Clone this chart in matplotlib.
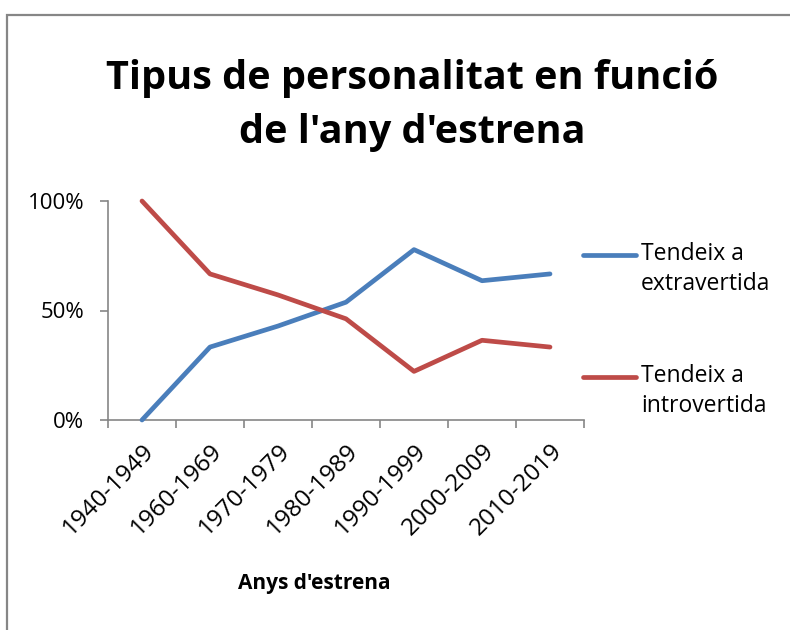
import matplotlib
matplotlib.use("Agg")
import matplotlib.pyplot as plt
from matplotlib.lines import Line2D
from matplotlib.patches import Rectangle
from matplotlib.ticker import FixedLocator, PercentFormatter

categories = ["1940-1949", "1960-1969", "1970-1979", "1980-1989",
              "1990-1999", "2000-2009", "2010-2019"]
extravertida = [0.0, 33.3, 42.9, 53.8, 77.8, 63.6, 66.7]
introvertida = [100.0, 66.7, 57.1, 46.2, 22.2, 36.4, 33.3]
series_labels = ["Tendeix a\nextravertida", "Tendeix a\nintrovertida"]
title = "Tipus de personalitat en funció\nde l'any d'estrena"
xlabel = "Anys d'estrena"

BLUE = "#4A7EBB"
RED = "#BE4B48"
GRAY = "#868686"
FONT = ["Open Sans", "DejaVu Sans"]

plt.rcParams["font.family"] = FONT

fig = plt.figure(figsize=(7.9, 6.3), dpi=100)
W, H = 790, 630

# outer border
fig.add_artist(Rectangle((7 / W, -0.1), 1.2, 1 - 15 / H + 0.1,
                         transform=fig.transFigure, fill=False,
                         edgecolor=GRAY, linewidth=1.6))

ax = fig.add_axes([108 / W, 1 - 420 / H, (584 - 108) / W, (420 - 201) / H])
x = list(range(len(categories)))
l1, = ax.plot(x, extravertida, color=BLUE, linewidth=3.4,
              solid_capstyle="round", clip_on=False, zorder=3)
l2, = ax.plot(x, introvertida, color=RED, linewidth=3.4,
              solid_capstyle="round", clip_on=False, zorder=3)

ax.set_xlim(-0.5, len(categories) - 0.5)
ax.set_ylim(0, 100)
ax.set_yticks([0, 50, 100])
ax.yaxis.set_major_formatter(PercentFormatter(100, decimals=0))
ax.set_xticks(x)
ax.set_xticklabels(categories, rotation=45, ha="right",
                   rotation_mode="anchor", fontsize=17.5)
ax.xaxis.set_minor_locator(FixedLocator([i - 0.5 for i in range(len(categories) + 1)]))
ax.tick_params(axis="x", which="major", length=0, pad=14)
ax.tick_params(axis="x", which="minor", length=6, color=GRAY, width=1.2)
ax.tick_params(axis="y", length=6, color=GRAY, width=1.2, labelsize=16, pad=11)

for s in ["top", "right"]:
    ax.spines[s].set_visible(False)
for s in ["left", "bottom"]:
    ax.spines[s].set_color(GRAY)
    ax.spines[s].set_linewidth(1.2)

ax.set_xlabel(xlabel, fontsize=15, fontweight="bold")
ax.xaxis.set_label_coords((314 - 108) / (584 - 108), -(583 - 420) / (420 - 201))
ax.xaxis.label.set_va("center")

fig.text(412 / W, 1 - 105 / H, title, ha="center", va="center",
         fontsize=28.5, fontweight="bold", linespacing=1.5)

# legend
for line, lab, yl in [(l1, series_labels[0], 255), (l2, series_labels[1], 377)]:
    fig.add_artist(Line2D([583 / W, 636 / W], [1 - yl / H, 1 - yl / H],
                          transform=fig.transFigure, color=line.get_color(),
                          linewidth=3.4, solid_capstyle="round"))
    fig.text(641 / W, 1 - (yl + 14) / H, lab, ha="left", va="center",
             fontsize=16.5, linespacing=1.35)

fig.savefig("out.png", dpi=100)
